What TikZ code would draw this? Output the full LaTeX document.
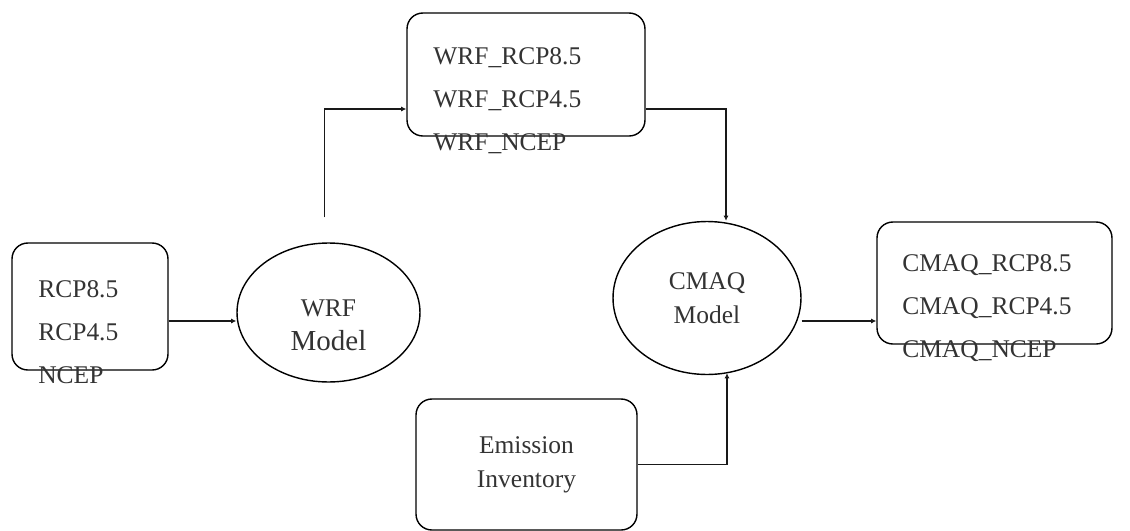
\documentclass[tikz,border=0pt]{standalone}
\usepackage{fontspec}
\setmainfont{Liberation Serif}
\usepackage{tikz}
\usetikzlibrary{calc, arrows.meta, positioning, shapes.geometric}

\begin{document}
\begin{tikzpicture}[x=0.02cm, y=-0.02cm, >=Latex,
    databox/.style={draw, rounded corners=9pt, line width=0.8pt, inner sep=0pt},
    modelell/.style={draw, ellipse, line width=0.8pt, inner sep=0pt, align=center,
                     font=\fontsize{14.5}{19.3}\selectfont, text=black!80},
    listtxt/.style={anchor=base west, align=left, inner sep=0pt,
                    font=\fontsize{14.5}{24.4}\selectfont, text=black!80},
    arr/.style={->, line width=1pt, black!90, arrows={-Latex[length=3pt, width=3pt]}}
  ]
  \useasboundingbox (0,0) rectangle (1130,531);

  % boxes and models
  \node[databox, minimum width=3.12cm, minimum height=2.54cm] (inp) at (90,306.5) {};
  \node[listtxt] (inptxt) at (38,383) {RCP8.5\\RCP4.5\\NCEP};

  \node[modelell, minimum width=3.66cm, minimum height=2.78cm] (wrf) at (328.5,312.5)
        {\rule{0pt}{0.86cm}WRF\\{\fontsize{16.5}{19.3}\selectfont Model}};

  \node[databox, minimum width=4.76cm, minimum height=2.46cm] (wrfout) at (526,74.5) {};
  \node[listtxt] (wrftxt) at (433,150) {WRF\_RCP8.5\\WRF\_RCP4.5\\WRF\_NCEP};

  \node[modelell, minimum width=3.76cm, minimum height=3.06cm] (cmaq) at (707,298) {CMAQ\\Model};

  \node[databox, minimum width=4.70cm, minimum height=2.44cm] (cmaqout) at (994.5,283) {};
  \node[listtxt] (cmaqtxt) at (902,357) {CMAQ\_RCP8.5\\CMAQ\_RCP4.5\\CMAQ\_NCEP};

  \node[databox, minimum width=4.42cm, minimum height=2.62cm, align=center,
        font=\fontsize{14.5}{19.3}\selectfont, text=black!80] (emis) at (526.5,464.5)
        {Emission\\Inventory};

  % connectors
  \coordinate (wrfin) at ($(wrf.west)+(0,8.5)$);
  \draw[arr] (wrfin -| inp.east) -- (wrfin);

  \coordinate (wrfup) at ($(wrf.north)+(-4,-25)$);
  \coordinate (wrfoutin) at ($(wrfout.west)+(0,34.5)$);
  \draw[arr] (wrfup) |- (wrfoutin);

  \coordinate (wrfoutex) at ($(wrfout.east)+(0,34.5)$);
  \draw[arr] (wrfoutex) -| ($(cmaq.north)+(19,0)$);

  \coordinate (cmaqex) at ($(cmaq.east)+(0,23)$);
  \draw[arr] (cmaqex) -- (cmaqex -| cmaqout.west);

  \draw[arr] (emis.east) -| ($(cmaq.south)+(20,-2)$);

\end{tikzpicture}
\end{document}
